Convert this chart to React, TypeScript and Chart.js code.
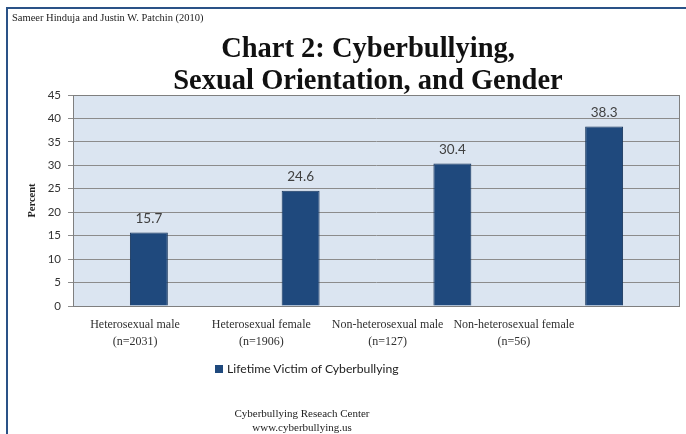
import React, { useEffect, useRef } from "react";
import { Chart, registerables } from "chart.js";

Chart.register(...registerables);

const categories: string[][] = [
  ["Heterosexual male", "(n=2031)"],
  ["Heterosexual female", "(n=1906)"],
  ["Non-heterosexual male", "(n=127)"],
  ["Non-heterosexual female", "(n=56)"],
];
const seriesName = "Lifetime Victim of Cyberbullying";
const victimPercent: number[] = [15.7, 24.6, 30.4, 38.3];
const yTicks: number[] = [0, 5, 10, 15, 20, 25, 30, 35, 40, 45];
const sourceText = "Sameer Hinduja and Justin W. Patchin (2010)";
const titleLines: string[] = ["Chart 2: Cyberbullying,", "Sexual Orientation, and Gender"];
const footerLines: string[] = ["Cyberbullying Reseach Center", "www.cyberbullying.us"];

const BAR_FILL = "#1f497d";
const BAR_EDGE = "#17365d";
const FRAME = "#2a5287";

const plotBgPlugin = {
  id: "plotBg",
  beforeDraw(chart: any) {
    const { ctx, chartArea: a } = chart;
    ctx.save();
    ctx.fillStyle = "#dbe5f1";
    ctx.fillRect(a.left, a.top, a.right - a.left, a.bottom - a.top);
    ctx.restore();
  },
  beforeDatasetsDraw(chart: any) {
    const { ctx, chartArea: a } = chart;
    ctx.save();
    ctx.strokeStyle = "#7f7f7f";
    ctx.lineWidth = 1;
    ctx.strokeRect(Math.round(a.left) + 0.5, Math.round(a.top) + 0.5, Math.round(a.right - a.left) - 1, Math.round(a.bottom - a.top));
    ctx.restore();
  },
};

const valueLabelPlugin = {
  id: "valueLabels",
  afterDatasetsDraw(chart: any) {
    const { ctx } = chart;
    const meta = chart.getDatasetMeta(0);
    const data = chart.data.datasets[0].data as number[];
    ctx.save();
    ctx.font = "13.5px Lato, 'Open Sans', sans-serif";
    ctx.fillStyle = "#404040";
    ctx.textAlign = "center";
    ctx.textBaseline = "middle";
    meta.data.forEach((bar: any, i: number) => {
      ctx.fillText(data[i].toFixed(1), bar.x, bar.y - 14);
    });
    ctx.restore();
  },
};

function BarChart() {
  const ref = useRef<HTMLCanvasElement | null>(null);
  useEffect(() => {
    if (!ref.current) return;
    const chart = new Chart(ref.current, {
      type: "bar",
      data: {
        labels: categories.map((c) => c.join(" ")),
        datasets: [
          {
            label: seriesName,
            data: victimPercent,
            backgroundColor: BAR_FILL,
            borderColor: BAR_EDGE,
            borderWidth: 1,
            barPercentage: 0.25,
            categoryPercentage: 1,
          },
        ],
      },
      options: {
        responsive: false,
        animation: false,
        devicePixelRatio: 1,
        layout: { padding: { top: 95, right: 6, left: 0, bottom: 0 } },
        plugins: {
          legend: { display: false },
          title: { display: false },
          tooltip: { enabled: false },
        },
        scales: {
          x: { type: "category", display: false, offset: true },
          x2: {
            type: "linear",
            position: "bottom",
            offset: false,
            min: -0.491,
            max: 4.315,
            afterBuildTicks(scale: any) {
              scale.ticks = categories.map((_, i) => ({ value: i }));
            },
            afterFit(scale: any) {
              scale.height = 128;
            },
            grid: { display: false, drawTicks: false, offset: false },
            border: { display: false },
            ticks: {
              autoSkip: false,
              maxRotation: 0,
              padding: 10,
              color: "#303030",
              font: { family: "'Liberation Serif', serif", size: 12, lineHeight: 1.45 },
              callback: (v: any) => categories[Math.round(Number(v))] ?? "",
            },
          },
          y: {
            min: 0,
            max: 45,
            afterBuildTicks(scale: any) {
              scale.ticks = yTicks.map((v) => ({ value: v }));
            },
            afterFit(scale: any) {
              scale.width = 73;
            },
            grid: { color: "#8c8c8c", lineWidth: 1, tickLength: 5, drawTicks: true },
            border: { display: false },
            ticks: {
              padding: 7,
              color: "#333333",
              font: { family: "Lato, 'Open Sans', sans-serif", size: 11.5 },
            },
            title: {
              display: true,
              text: "Percent",
              color: "#222222",
              padding: { top: 26, bottom: 0 },
              font: { family: "'Liberation Serif', serif", size: 10.5, weight: "bold" },
            },
          },
        },
      },
      plugins: [plotBgPlugin, valueLabelPlugin],
    });
    return () => chart.destroy();
  }, []);
  return (
    <canvas
      ref={ref}
      width={686}
      height={434}
      style={{ position: "absolute", left: 0, top: 0, width: 686, height: 434 }}
    />
  );
}

export default function App() {
  const serif = "'Liberation Serif', 'Times New Roman', serif";
  return (
    <div
      style={{
        position: "fixed",
        left: 0,
        top: 0,
        width: 686,
        height: 434,
        background: "#ffffff",
        overflow: "hidden",
      }}
    >
      <div
        style={{
          position: "absolute",
          left: 6,
          top: 7,
          width: 700,
          height: 450,
          borderLeft: `2px solid ${FRAME}`,
          borderTop: `2px solid ${FRAME}`,
        }}
      />
      <BarChart />
      <div
        style={{
          position: "absolute",
          left: 12,
          top: 12,
          fontFamily: serif,
          fontSize: 10.5,
          color: "#222",
          whiteSpace: "nowrap",
        }}
      >
        {sourceText}
      </div>
      {titleLines.map((t, i) => (
        <div
          key={t}
          style={{
            position: "absolute",
            left: 368,
            top: 32 + i * 32,
            transform: "translateX(-50%)",
            fontFamily: serif,
            fontWeight: "bold",
            fontSize: 28.5,
            lineHeight: "32px",
            color: "#111",
            whiteSpace: "nowrap",
          }}
        >
          {t}
        </div>
      ))}
      <div
        style={{
          position: "absolute",
          left: 215,
          top: 361,
          display: "flex",
          alignItems: "center",
          fontFamily: "Lato, 'Open Sans', sans-serif",
          fontSize: 12.2,
          color: "#222",
          whiteSpace: "nowrap",
          lineHeight: "16px",
        }}
      >
        <span
          style={{
            display: "inline-block",
            width: 8,
            height: 8,
            background: BAR_FILL,
            marginRight: 4,
          }}
        />
        <span>{seriesName}</span>
      </div>
      {footerLines.map((t, i) => (
        <div
          key={t}
          style={{
            position: "absolute",
            left: 302,
            top: 406 + i * 14,
            transform: "translateX(-50%)",
            fontFamily: serif,
            fontSize: 11,
            lineHeight: "14px",
            color: "#222",
            whiteSpace: "nowrap",
          }}
        >
          {t}
        </div>
      ))}
    </div>
  );
}
